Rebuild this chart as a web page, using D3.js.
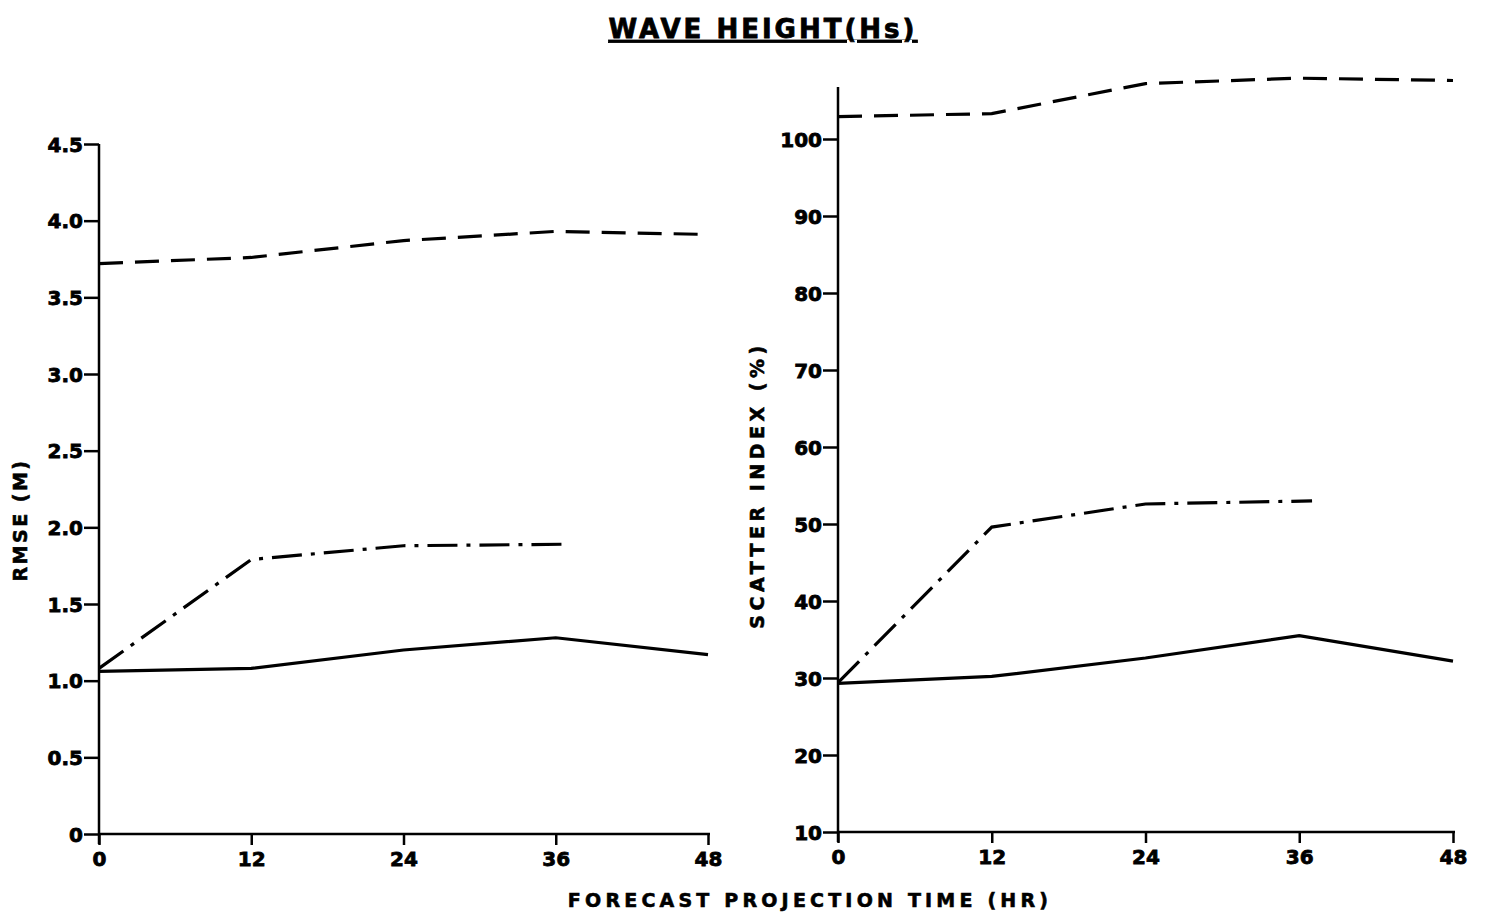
<!DOCTYPE html>
<html><head><meta charset="utf-8">
<script src="https://cdn.jsdelivr.net/npm/d3@7"></script>
<style>body{margin:0;background:#fff}text{font-family:"DejaVu Sans",sans-serif;font-weight:bold;fill:#000}</style>
</head><body><svg id="c" width="1490" height="913"></svg>
<script>
const hours = [0, 12, 24, 36, 48];
const xTickLabels = ["0", "12", "24", "36", "48"];
const rmseTicks = [0, 0.5, 1.0, 1.5, 2.0, 2.5, 3.0, 3.5, 4.0, 4.5];
const rmseTickLabels = ["0", "0.5", "1.0", "1.5", "2.0", "2.5", "3.0", "3.5", "4.0", "4.5"];
const siTicks = [10, 20, 30, 40, 50, 60, 70, 80, 90, 100];
const siTickLabels = ["10", "20", "30", "40", "50", "60", "70", "80", "90", "100"];

const rmseDashedX = [0, 12, 24, 36, 48];
const rmseDashed = [3.72, 3.76, 3.87, 3.93, 3.91];
const rmseDashDotX = [0, 12, 24, 37];
const rmseDashDot = [1.08, 1.79, 1.88, 1.89];
const rmseSolidX = [0, 12, 24, 36, 48];
const rmseSolid = [1.06, 1.08, 1.20, 1.28, 1.17];

const siDashedX = [0, 12, 24, 36, 48];
const siDashed = [102.9, 103.3, 107.2, 107.9, 107.6];
const siDashDotX = [0, 12, 24, 37];
const siDashDot = [29.4, 49.6, 52.6, 53.0];
const siSolidX = [0, 12, 24, 36, 48];
const siSolid = [29.3, 30.2, 32.6, 35.5, 32.2];

const svg = d3.select("#c");
const styles = {dashed: "24,12", dashdot: "30,9,4,9", solid: null};

function panel(o) {
  const x = d3.scaleLinear().domain([0, 48]).range(o.xr);
  const y = d3.scaleLinear().domain(o.yd).range(o.yr);
  const g = svg.append("g");
  const ya = d3.axisLeft(y).tickValues(o.yt).tickFormat((d, i) => o.ytl[i]).tickSize(15).tickSizeOuter(0);
  const yg = g.append("g").attr("transform", `translate(${o.xr[0]},0)`).call(ya);
  yg.select(".domain").remove();
  g.append("line").attr("x1", o.xr[0]).attr("x2", o.xr[0]).attr("y1", o.ytop).attr("y2", o.yr[0] + 10)
    .attr("stroke", "#000").attr("stroke-width", 2.5);
  yg.selectAll(".tick line").attr("stroke-width", 2.5);
  yg.selectAll(".tick text").attr("font-size", 20).attr("x", -16).attr("dy", "0.36em").attr("y", 0)
    .attr("stroke", "#000").attr("stroke-width", 0.8);
  const xa = d3.axisBottom(x).tickValues(hours).tickFormat((d, i) => xTickLabels[i]).tickSize(11).tickSizeOuter(0);
  const xg = g.append("g").attr("transform", `translate(0,${o.yr[0]})`).call(xa);
  xg.select(".domain").remove();
  g.append("line").attr("x1", o.xr[0]).attr("x2", o.xr[1] + 2).attr("y1", o.yr[0]).attr("y2", o.yr[0])
    .attr("stroke", "#000").attr("stroke-width", 2.5);
  xg.selectAll(".tick line").attr("stroke-width", 2.5);
  xg.selectAll(".tick text").attr("font-size", 20).attr("y", 18).attr("dy", "0.71em")
    .attr("stroke", "#000").attr("stroke-width", 0.8);
  const line = d3.line().x(d => x(d[0])).y(d => y(d[1]));
  o.series.forEach(s => {
    g.append("path").datum(s.xs.map((v, i) => [v, s.ys[i]]))
      .attr("d", line).attr("fill", "none").attr("stroke", "#000").attr("stroke-width", 3.2)
      .attr("stroke-dasharray", styles[s.style]);
  });
  g.append("text").attr("transform", `translate(${o.lx},${o.ly}) rotate(-90)`)
    .attr("text-anchor", "middle").attr("font-size", o.lfs).attr("letter-spacing", o.lls)
    .attr("stroke", "#000").attr("stroke-width", 0.6).text(o.label);
}

panel({xr: [99, 708], yd: [0, 4.5], yr: [834, 144], ytop: 144, yt: rmseTicks, ytl: rmseTickLabels,
  lx: 27, ly: 520, label: "RMSE (M)", lfs: 19, lls: 2.5,
  series: [{xs: rmseDashedX, ys: rmseDashed, style: "dashed"},
           {xs: rmseDashDotX, ys: rmseDashDot, style: "dashdot"},
           {xs: rmseSolidX, ys: rmseSolid, style: "solid"}]});

panel({xr: [838, 1453], yd: [10, 100], yr: [832, 139], ytop: 87, yt: siTicks, ytl: siTickLabels,
  lx: 764, ly: 485, label: "SCATTER INDEX (%)", lfs: 19, lls: 4.5,
  series: [{xs: siDashedX, ys: siDashed, style: "dashed"},
           {xs: siDashDotX, ys: siDashDot, style: "dashdot"},
           {xs: siSolidX, ys: siSolid, style: "solid"}]});

svg.append("text").attr("x", 763).attr("y", 38).attr("text-anchor", "middle").attr("font-size", 26)
  .attr("letter-spacing", 3).attr("text-decoration", "underline")
  .attr("stroke", "#000").attr("stroke-width", 0.8).text("WAVE HEIGHT(Hs)");
svg.append("text").attr("x", 810).attr("y", 907).attr("text-anchor", "middle").attr("font-size", 19)
  .attr("letter-spacing", 4.2).attr("stroke", "#000").attr("stroke-width", 0.6)
  .text("FORECAST PROJECTION TIME (HR)");
</script></body></html>
